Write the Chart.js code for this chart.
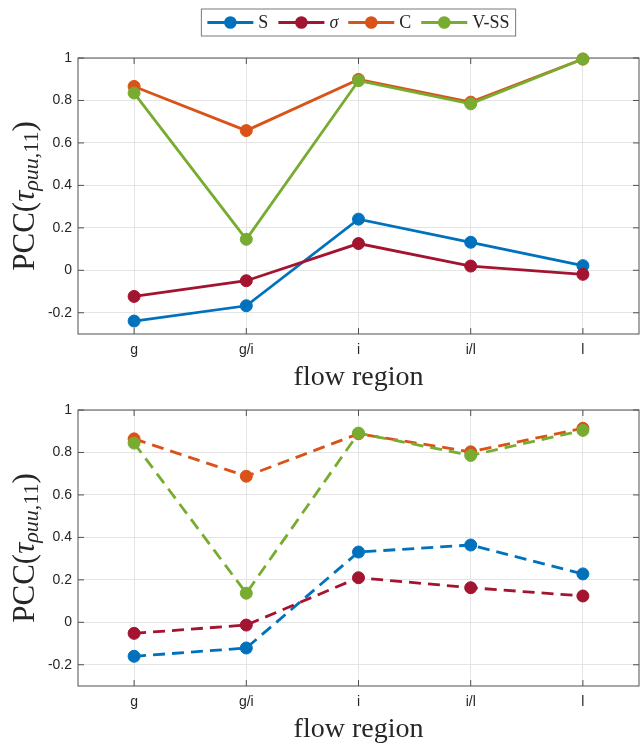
<!DOCTYPE html>
<html lang="en">
<head>
  <meta charset="UTF-8">
  <title>PCC by flow region</title>
  <script src="https://cdn.jsdelivr.net/npm/chart.js"></script>
  <style>
    body { margin: 0; background: #fff; overflow: hidden; }
    #wrap { position: relative; width: 641px; height: 746px; overflow: hidden; }
    #wrap canvas { position: absolute; left: 0; }
  </style>
</head>
<body>
  <div id="wrap">
    <canvas id="topChart" width="646" height="398" style="top:0"></canvas>
    <canvas id="bottomChart" width="646" height="398" style="top:352px"></canvas>
  </div>

  <script>
    // categories and series values
    const regions = ['g', 'g/i', 'i', 'i/l', 'l'];
    const seriesNames = ['S', 'σ', 'C', 'V-SS'];
    const yTicks = [-0.2, 0, 0.2, 0.4, 0.6, 0.8, 1];

    const topS     = [-0.239, -0.167, 0.241, 0.132, 0.022];
    const topSigma = [-0.123, -0.049, 0.126, 0.020, -0.019];
    const topC     = [0.866, 0.658, 0.899, 0.792, 0.995];
    const topVSS   = [0.835, 0.146, 0.893, 0.784, 0.995];

    const botS     = [-0.160, -0.121, 0.331, 0.364, 0.228];
    const botSigma = [-0.052, -0.013, 0.210, 0.163, 0.124];
    const botC     = [0.864, 0.688, 0.888, 0.803, 0.914];
    const botVSS   = [0.844, 0.137, 0.891, 0.786, 0.904];

    const colors = ['#0072BD', '#A2142F', '#D95319', '#77AC30'];
    const italicName = [false, true, false, false];
    const axisColor = '#262626';

    // MATLAB-like box with inward ticks on all four sides
    const axesBox = {
      id: 'axesBox',
      beforeDatasetsDraw(chart) {
        const { ctx, chartArea: a, scales: { x, y } } = chart;
        ctx.save();
        ctx.strokeStyle = '#505050';
        ctx.lineWidth = 1;
        ctx.strokeRect(a.left, a.top, a.right - a.left, a.bottom - a.top);
        ctx.beginPath();
        x.ticks.forEach((t, i) => {
          const px = x.getPixelForTick(i);
          ctx.moveTo(px, a.bottom); ctx.lineTo(px, a.bottom - 6);
          ctx.moveTo(px, a.top); ctx.lineTo(px, a.top + 6);
        });
        y.ticks.forEach((t, i) => {
          const py = y.getPixelForTick(i);
          ctx.moveTo(a.left, py); ctx.lineTo(a.left + 6, py);
          ctx.moveTo(a.right, py); ctx.lineTo(a.right - 6, py);
        });
        ctx.stroke();
        ctx.restore();
      }
    };

    // y title with a real subscript: PCC(τ_{ρuu,11})
    const yTitle = {
      id: 'yTitle',
      afterDraw(chart) {
        const { ctx, chartArea: a } = chart;
        const parts = [
          { t: 'PCC(', f: '31px "Liberation Serif"', dy: 0 },
          { t: 'τ', f: 'italic 31px "Liberation Serif"', dy: 0 },
          { t: 'ρuu', f: 'italic 22px "Liberation Serif"', dy: 4 },
          { t: ',11', f: '22px "Liberation Serif"', dy: 4 },
          { t: ')', f: '31px "Liberation Serif"', dy: 0 }
        ];
        ctx.save();
        let total = 0;
        parts.forEach(p => { ctx.font = p.f; p.w = ctx.measureText(p.t).width; total += p.w; });
        ctx.translate(34, (a.top + a.bottom) / 2);
        ctx.rotate(-Math.PI / 2);
        ctx.fillStyle = axisColor;
        ctx.textBaseline = 'alphabetic';
        let cx = -total / 2;
        parts.forEach(p => { ctx.font = p.f; ctx.fillText(p.t, cx, p.dy); cx += p.w; });
        ctx.restore();
      }
    };

    // boxed legend: line + marker, then the name
    const boxLegend = {
      id: 'boxLegend',
      afterDraw(chart, args, opts) {
        if (!opts.show) return;
        const { ctx, chartArea: a } = chart;
        const sets = chart.data.datasets;
        const lineLen = 46, gap = 5, itemGap = 10, pad = 6;
        ctx.save();
        const widths = sets.map((ds, i) => {
          ctx.font = (italicName[i] ? 'italic ' : '') + '18px "Liberation Serif"';
          return ctx.measureText(ds.label).width;
        });
        let total = pad * 2 + itemGap * (sets.length - 1);
        widths.forEach(w => total += lineLen + gap + w);
        const left = (a.left + a.right) / 2 - total / 2;
        const top = 9, h = 27, cy = top + h / 2;
        ctx.fillStyle = '#fff';
        ctx.fillRect(left, top, total, h);
        ctx.strokeStyle = '#7a7a7a';
        ctx.lineWidth = 1;
        ctx.strokeRect(left, top, total, h);
        let x = left + pad;
        sets.forEach((ds, i) => {
          ctx.strokeStyle = ds.borderColor;
          ctx.lineWidth = 2.8;
          ctx.beginPath();
          ctx.moveTo(x, cy); ctx.lineTo(x + lineLen, cy);
          ctx.stroke();
          ctx.fillStyle = ds.borderColor;
          ctx.beginPath();
          ctx.arc(x + lineLen / 2, cy, 6.3, 0, Math.PI * 2);
          ctx.fill();
          ctx.font = (italicName[i] ? 'italic ' : '') + '18px "Liberation Serif"';
          ctx.fillStyle = axisColor;
          ctx.textBaseline = 'middle';
          ctx.fillText(ds.label, x + lineLen + gap, cy + 1);
          x += lineLen + gap + widths[i] + itemGap;
        });
        ctx.restore();
      }
    };

    function makeChart(id, series, dashed, showLegend) {
      const ctx = document.getElementById(id).getContext('2d');
      return new Chart(ctx, {
        type: 'line',
        data: {
          labels: regions,
          datasets: series.map((vals, i) => ({
            label: seriesNames[i],
            data: vals,
            order: series.length - 1 - i,
            borderColor: colors[i],
            backgroundColor: colors[i],
            pointBackgroundColor: colors[i],
            pointBorderColor: colors[i],
            borderWidth: 2.8,
            borderDash: dashed ? [12, 7] : [],
            pointRadius: 6,
            pointHoverRadius: 6,
            pointBorderWidth: 1,
            tension: 0,
            clip: false
          }))
        },
        options: {
          responsive: false,
          devicePixelRatio: 1,
          animation: false,
          layout: { padding: { top: 58, right: 2.5, bottom: 0, left: 0 } },
          plugins: {
            legend: { display: false },
            tooltip: { enabled: false },
            boxLegend: { show: showLegend }
          },
          scales: {
            x: {
              offset: true,
              grid: { color: '#e4e4e4', drawTicks: false },
              border: { display: false },
              ticks: {
                color: axisColor,
                font: { family: 'Liberation Sans', size: 14 },
                padding: 8,
                maxRotation: 0
              },
              title: {
                display: true,
                text: 'flow region',
                color: axisColor,
                font: { family: 'Liberation Serif', size: 28, lineHeight: 1 },
                padding: { top: 0, bottom: 6 }
              },
              afterFit(s) { s.height = 64; }
            },
            y: {
              min: -0.3,
              max: 1,
              grid: { color: '#e4e4e4', drawTicks: false },
              border: { display: false },
              ticks: {
                color: axisColor,
                font: { family: 'Liberation Sans', size: 14 },
                padding: 6,
                callback: v => String(v)
              },
              afterBuildTicks(s) { s.ticks = yTicks.map(v => ({ value: v })); },
              afterFit(s) { s.width = 78; }
            }
          }
        },
        plugins: [axesBox, yTitle, boxLegend]
      });
    }

    makeChart('topChart', [topS, topSigma, topC, topVSS], false, true);
    makeChart('bottomChart', [botS, botSigma, botC, botVSS], true, false);
  </script>
</body>
</html>
